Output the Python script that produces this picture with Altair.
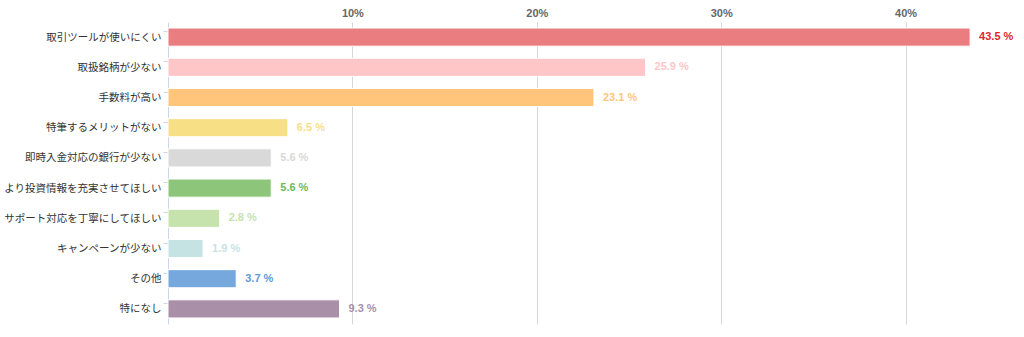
import altair as alt
import pandas as pd

categories = ["取引ツールが使いにくい", "取扱銘柄が少ない", "手数料が高い", "特筆するメリットがない",
              "即時入金対応の銀行が少ない", "より投資情報を充実させてほしい", "サポート対応を丁寧にしてほしい",
              "キャンペーンが少ない", "その他", "特になし"]
values = [43.5, 25.9, 23.1, 6.5, 5.6, 5.6, 2.8, 1.9, 3.7, 9.3]
bar_colors = ["#E97D80", "#FFC6C8", "#FFC67B", "#F7DF86", "#D9D9D9", "#8DC67A",
              "#C6E3AD", "#C5E3E3", "#76A8DE", "#A98FA7"]
label_colors = ["#E0262C", "#FFC6C8", "#FFC67B", "#F7DF86", "#D9D9D9", "#6DB957",
                "#C6E3AD", "#C5E3E3", "#5F98D8", "#A98FA7"]
x_ticks = [10, 20, 30, 40]

df = pd.DataFrame({"cat": categories, "val": values, "bc": bar_colors, "lc": label_colors})

y = alt.Y("cat:N", sort=categories, title=None,
          scale=alt.Scale(paddingInner=0.4, paddingOuter=0.2),
          axis=alt.Axis(domainColor="#ccd6eb", tickColor="#ccd6eb", tickSize=5, tickOffset=-6,
                        labelOffset=6, labelPadding=2, labelFont="Noto Sans CJK JP",
                        labelFontSize=10.5, labelColor="#333333", labelLimit=300, grid=False))
x = alt.X("val:Q", title=None, scale=alt.Scale(domain=[0, 43.44], nice=False, zero=True),
          axis=alt.Axis(orient="top", values=x_ticks, labelExpr="datum.value + '%'",
                        domain=False, ticks=False, grid=True, gridColor="#d6d6d6",
                        labelFont="Liberation Sans", labelFontSize=11, labelFontWeight="bold",
                        labelColor="#666666", labelPadding=4))

bars = alt.Chart(df).mark_bar(stroke="white", strokeWidth=1).encode(
    x=x, y=y, color=alt.Color("bc:N", scale=None))

labels = alt.Chart(df).transform_calculate(
    txt="format(datum.val, '.1f') + ' %'"
).mark_text(align="left", baseline="middle", dx=9, font="Liberation Sans",
            fontSize=11, fontWeight="bold", clip=False).encode(
    x="val:Q", y=alt.Y("cat:N", sort=categories), text="txt:N",
    color=alt.Color("lc:N", scale=None))

chart = alt.layer(bars, labels).properties(
    width=801, height=302,
    background="white",
    autosize=alt.AutoSizeParams(type="none"),
    padding={"left": 168, "top": 22, "right": 55, "bottom": 13},
).configure_view(stroke=None, strokeWidth=0)

chart.save("out.html", embed_options={"renderer": "svg", "actions": False})
